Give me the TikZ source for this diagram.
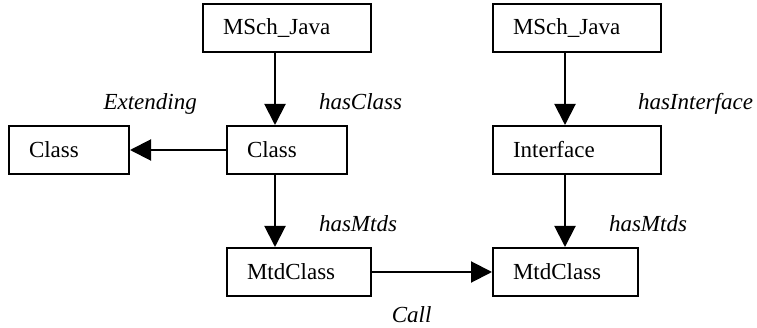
\documentclass[tikz,border=0pt]{standalone}
\usepackage{fontspec}
\setmainfont{Liberation Serif}
\usetikzlibrary{positioning,arrows.meta}

\begin{document}
\begin{tikzpicture}[x=1pt,y=1pt,line width=2pt,
  every node/.style={font=\fontsize{23}{27}\selectfont},
  box/.style={draw,minimum height=48pt,inner xsep=20pt,inner ysep=0pt,align=left,text width=#1},
  lbl/.style={font=\fontsize{23}{27}\selectfont\itshape,inner sep=0pt},
  >={Triangle[length=21pt,width=21pt]}]
			\useasboundingbox (0,0) rectangle (757,-328);
			\node[box=80pt]                                               (Cls)      at (287,-150) {Class};
			\node[box=80pt,left=96pt of Cls]                              (SuperCls) {Class};
			\node[box=128pt,above=72pt of Cls]                            (JavaA)    {MSch\_Java};
			\node[box=104pt,below=72pt of Cls.south west,anchor=north west] (MtdA)   {MtdClass};
			\node[box=105pt,right=120pt of MtdA]                          (MtdB)     {MtdClass};
			\node[box=128pt,above=72pt of MtdB.north west,anchor=south west] (Iface) {Interface};
			\node[box=128pt,above=72pt of Iface]                          (JavaB)    {MSch\_Java};

			\path[->] ([xshift=-12pt]JavaA.south) edge node[lbl,pos=.78,anchor=base west,xshift=43pt] {hasClass}     ([xshift=-12pt]Cls.north)
						 (Cls)                      edge node[lbl,pos=.79,anchor=base,yshift=40pt]       {Extending}    (SuperCls)
						 ([xshift=-12pt]Cls.south)  edge node[lbl,pos=.78,anchor=base west,xshift=43pt] {hasMtds}      ([xshift=49pt]MtdA.north west)
						 ([xshift=-12pt]JavaB.south) edge node[lbl,pos=.78,anchor=base west,xshift=72pt] {hasInterface} ([xshift=-12pt]Iface.north)
						 ([xshift=-12pt]Iface.south) edge node[lbl,pos=.78,anchor=base west,xshift=43pt] {hasMtds}     ([xshift=73pt]MtdB.north west)
						 (MtdA)                     edge node[lbl,pos=.33,anchor=base,yshift=-51pt]      {Call}         (MtdB);
		\end{tikzpicture}
\end{document}
